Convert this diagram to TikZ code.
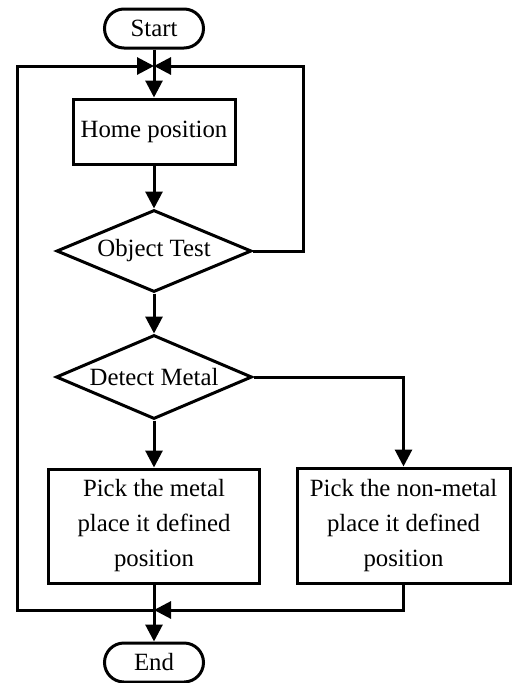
\documentclass[tikz,border=0pt]{standalone}
\usepackage{fontspec}
\setmainfont{Liberation Serif}
\usetikzlibrary{arrows.meta,shapes.geometric}
\begin{document}
\begin{tikzpicture}[x=1pt,y=-1pt,
  every node/.style={font=\fontsize{24.8}{35}\selectfont, line width=3pt, draw, inner sep=0pt, align=center},
  term/.style={rectangle, rounded corners=19.5pt, minimum width=99pt, minimum height=39pt},
  procbox/.style={rectangle},
  decide/.style={diamond, aspect=2.35},
  arr/.style={line width=3pt, -{Triangle[length=17pt,width=17pt]}},
  ln/.style={line width=3pt}]
\useasboundingbox (0,0) rectangle (512,683);
\node[term] (start) at (154,28.5) {Start};
\node[procbox, minimum width=162pt, minimum height=65pt] (home) at (154,131.5) {Home position};
\node[decide, minimum width=195pt, minimum height=82pt] (test) at (154,251) {Object Test};
\node[decide, minimum width=196pt, minimum height=84pt] (detect) at (154,377) {Detect Metal};
\node[procbox, minimum width=211pt, minimum height=114pt] (lbox) at (154,526) {Pick the metal\\place it defined\\position};
\node[procbox, minimum width=213pt, minimum height=115pt] (rbox) at (403.5,525.5) {Pick the non-metal\\place it defined\\position};
\node[term] (end) at (154,662.5) {End};
\coordinate (topj) at (154,66);
\coordinate (botj) at (154,610);
\coordinate (rturn) at (303,66);
\coordinate (ltop) at (17,66);
\coordinate (lbot) at (17,610);
\draw[arr] (start) -- (home);
\draw[arr] (home) -- (test);
\draw[arr] (test) -- (detect);
\draw[arr] (detect) -- (lbox);
\draw[arr] (detect.east) -| (rbox.north);
\draw[arr] (lbox) -- (end);
\draw[arr] (rbox.south) |- (botj);
\draw[arr] (test.east) -| (rturn) -- (topj);
\draw[arr] (botj) -- (lbot) -- (ltop) -- (topj);
\end{tikzpicture}
\end{document}
